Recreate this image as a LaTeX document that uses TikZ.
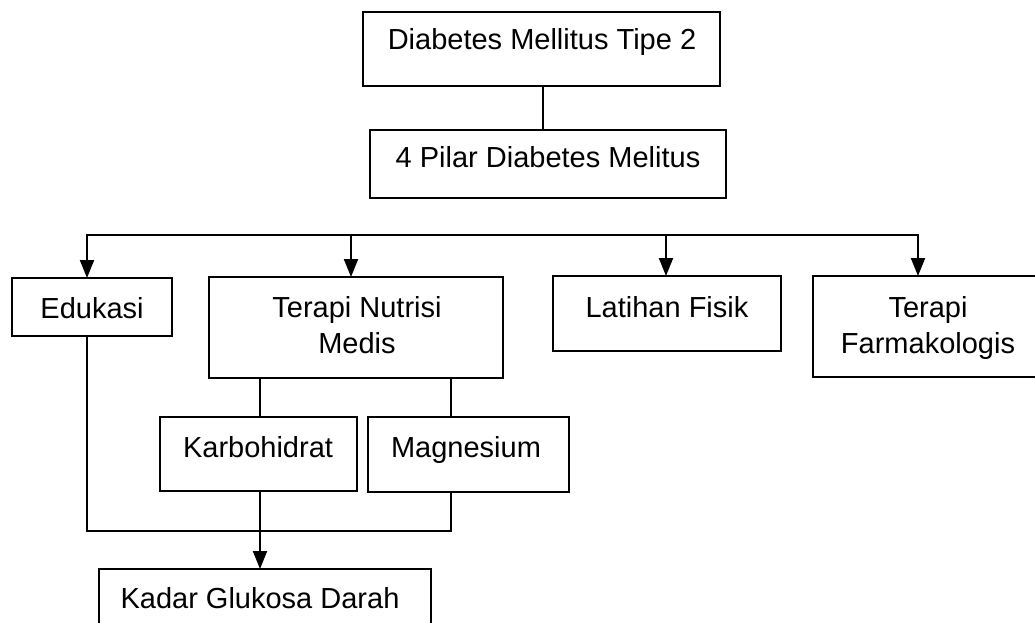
\documentclass[tikz,border=0pt]{standalone}
\usepackage{fontspec}
\setmainfont{Liberation Sans}
\usetikzlibrary{arrows.meta}
\tikzset{
  box/.style={draw, line width=2pt, inner sep=0pt, outer sep=0pt, rectangle},
  txt/.style={inner sep=0pt, outer sep=0pt, anchor=base, font=\fontsize{29}{36}\selectfont},
  conn/.style={line width=2pt},
  arr/.style={line width=2pt, -{Triangle[length=18pt,width=14pt]}},
  darr/.style={line width=2pt, {Triangle[length=18pt,width=14pt]}-{Triangle[length=18pt,width=14pt]}}
}
\newcommand{\boxat}[5]{% name, x1, x2, y1, y2
  \pgfmathsetmacro{\bw}{#3-#2}\pgfmathsetmacro{\bh}{#5-#4}%
  \pgfmathsetmacro{\bx}{(#3+#2)/2}\pgfmathsetmacro{\by}{(#5+#4)/2}%
  \node[box, minimum width=\bw pt, minimum height=\bh pt] (#1) at (\bx,\by) {};}
\begin{document}
\begin{tikzpicture}[x=1pt,y=-1pt]
\useasboundingbox (0,0) rectangle (1035,623);
\clip (0,0) rectangle (1035,623);
% boxes
\boxat{b1}{363}{720}{12}{86}
\boxat{b2}{370}{726}{130}{198}
\boxat{edu}{12}{172}{278}{336}
\boxat{tnm}{209}{503}{277}{378}
\boxat{lat}{553}{781}{276}{351}
\boxat{far}{813}{1050}{276}{377}
\boxat{karb}{160}{357}{417}{491}
\boxat{mag}{368}{569}{417}{492}
\boxat{kad}{99}{431}{569}{650}
% texts
\node[txt] (t1) at (542,50) {Diabetes Mellitus Tipe 2};
\node[txt] (t2) at (548,167) {4 Pilar Diabetes Melitus};
\node[txt] (tedu) at (92,318) {Edukasi};
\node[txt] (ttnma) at (357,317) {Terapi Nutrisi};
\node[txt] (ttnmb) at (357,353) {Medis};
\node[txt] (tlat) at (667,317) {Latihan Fisik};
\node[txt] (tfara) at (928,317) {Terapi};
\node[txt] (tfarb) at (928,353) {Farmakologis};
\node[txt] (tkarb) at (258,457) {Karbohidrat};
\node[txt] (tmag) at (466,457) {Magnesium};
\node[txt] (tkad) at (260,608) {Kadar Glukosa Darah};
% connectors
\coordinate (c12) at (543,0);
\draw[conn] (c12 |- b1.south) -- (c12 |- b2.north);
\coordinate (j1) at (87,234.5);
\coordinate (j2) at (351,234.5);
\coordinate (j3) at (666,234.5);
\coordinate (j4) at (918,234.5);
\draw[darr] (j1 |- edu.north) -- (j1) -- (j4) -- (j4 |- far.north);
\draw[arr] (j2) -- (j2 |- tnm.north);
\draw[arr] (j3) -- (j3 |- lat.north);
\coordinate (sk) at (260,0);
\coordinate (sm) at (451,0);
\draw[conn] (sk |- tnm.south) -- (sk |- karb.north);
\draw[conn] (sm |- tnm.south) -- (sm |- mag.north);
\coordinate (bl) at (87,531);
\coordinate (br) at (451,531);
\draw[conn] (bl |- edu.south) -- (bl) -- (br) -- (sm |- mag.south);
\draw[arr] (sk |- karb.south) -- (sk |- kad.north);
\end{tikzpicture}
\end{document}
